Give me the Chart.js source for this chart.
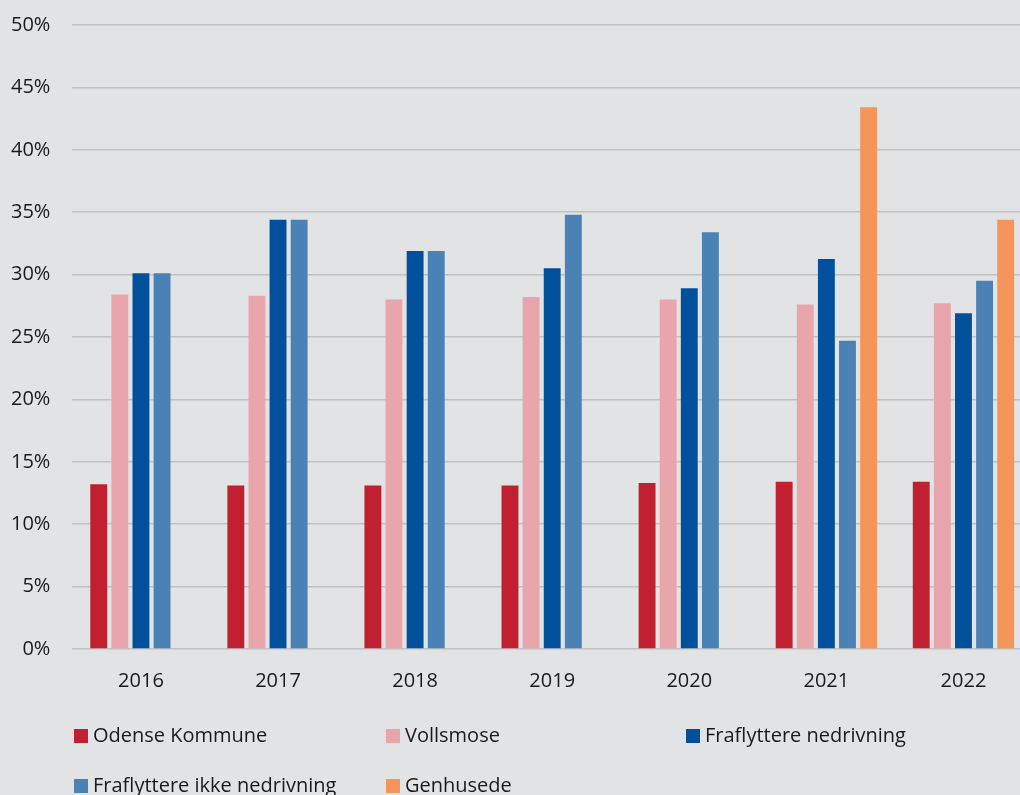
<!DOCTYPE html>
<html>
<head>
<meta charset="utf-8">
<script src="https://cdn.jsdelivr.net/npm/chart.js@4"></script>
<style>
  html, body { margin: 0; padding: 0; background: #e2e3e5; overflow: hidden; }
  body { width: 1020px; height: 795px; position: relative; font-family: "Open Sans", sans-serif; }
  #wrap { position: absolute; left: -11px; top: -9px; width: 1043px; height: 730px; }
  #legend { position: absolute; left: 0; top: 0; width: 1020px; height: 795px; }
  .item { position: absolute; font-size: 20px; color: #1a1a1a; white-space: nowrap; line-height: 24px; }
  .item span.box { position: absolute; left: 0; top: 6px; width: 14px; height: 14px; }
  .item span.txt { position: absolute; left: 19px; top: 0; }
</style>
</head>
<body>
<div id="wrap"><canvas id="myChart"></canvas></div>
<div id="legend"></div>
<script>
const years = ['2016', '2017', '2018', '2019', '2020', '2021', '2022'];
const odense = [13.2, 13.1, 13.1, 13.1, 13.3, 13.4, 13.4];
const vollsmose = [28.4, 28.3, 28.0, 28.2, 28.0, 27.6, 27.7];
const nedrivning = [30.1, 34.4, 31.9, 30.5, 28.9, 31.25, 26.9];
const ikkeNedrivning = [30.1, 34.4, 31.9, 34.8, 33.4, 24.7, 29.5];
const genhusede = [null, null, null, null, null, 43.4, 34.4];
const yTicks = [0, 5, 10, 15, 20, 25, 30, 35, 40, 45, 50];

const series = [
  { label: 'Odense Kommune', data: odense, color: '#c0202f' },
  { label: 'Vollsmose', data: vollsmose, color: '#e8a6ac' },
  { label: 'Fraflyttere nedrivning', data: nedrivning, color: '#00509b' },
  { label: 'Fraflyttere ikke nedrivning', data: ikkeNedrivning, color: '#4a82b5' },
  { label: 'Genhusede', data: genhusede, color: '#f6955a' }
];

const ctx = document.getElementById('myChart');
const myChart = new Chart(ctx, {
  type: 'bar',
  data: {
    labels: years,
    datasets: series.map(s => ({
      label: s.label,
      data: s.data,
      backgroundColor: s.color,
      borderWidth: 0,
      barPercentage: 0.8,
      categoryPercentage: 0.77
    }))
  },
  options: {
    responsive: true,
    maintainAspectRatio: false,
    animation: false,
    layout: { padding: { left: 0, top: 1, right: 0, bottom: 16 } },
    plugins: {
      legend: { display: false },
      tooltip: { enabled: false }
    },
    scales: {
      x: {
        grid: { display: false },
        border: { display: false },
        ticks: { color: '#1a1a1a', font: { family: 'Open Sans', size: 20 }, padding: 12 }
      },
      y: {
        min: 0,
        max: 50,
        afterBuildTicks: axis => { axis.ticks = yTicks.map(v => ({ value: v })); },
        grid: { color: '#c0c1c3', lineWidth: 1.5, drawTicks: false },
        border: { display: false },
        ticks: {
          color: '#1a1a1a',
          font: { family: 'Open Sans', size: 20 },
          padding: 22,
          callback: v => v + '%'
        }
      }
    }
  }
});

// legend laid out in three columns like the original
const cols = [74, 386, 686];
const rows = [723, 773];
const legend = document.getElementById('legend');
series.forEach((s, i) => {
  const el = document.createElement('div');
  el.className = 'item';
  el.style.left = cols[i % 3] + 'px';
  el.style.top = rows[Math.floor(i / 3)] + 'px';
  el.innerHTML = '<span class="box" style="background:' + s.color + '"></span><span class="txt">' + s.label + '</span>';
  legend.appendChild(el);
});
</script>
</body>
</html>
